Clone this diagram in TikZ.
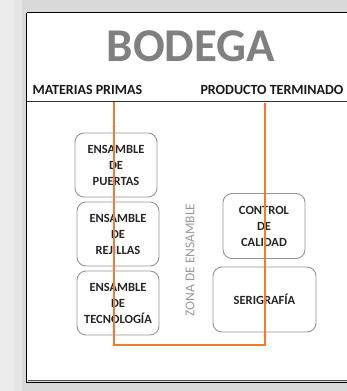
\documentclass[tikz,border=0pt]{standalone}
\usepackage{fontspec}
\setmainfont{Carlito}
\usetikzlibrary{arrows.meta}
\definecolor{flow}{RGB}{240,125,45}
\definecolor{boxgray}{RGB}{150,150,150}
\tikzset{
  procbox/.style={draw=boxgray, line width=0.9pt, rounded corners=9pt, fill=white},
  boxtext/.style={font=\bfseries\fontsize{12.5}{16}\selectfont, align=center, text=black!85},
  headtext/.style={font=\bfseries\fontsize{14}{14}\selectfont, text=black!90, anchor=base west},
  flowline/.style={draw=flow, line width=1.1pt},
  tip/.style={-{Triangle[length=3pt,width=3pt]}}
}
\begin{document}
\begin{tikzpicture}[x=1pt,y=-1pt]
\useasboundingbox (0,0) rectangle (347,391);
% outer shadow background
\fill[gray!30] (0,0) rectangle (347,391);
\fill[gray!15] (0,0) rectangle (14,391);
\fill[gray!20] (14,0) rectangle (22,391);
\fill[white] (26,12) rectangle (347,381);
\draw[black, line width=0.8pt] (26.5,12.5) -- (26.5,382.5) -- (347,382.5);
\draw[black, line width=0.8pt] (26.5,12.5) -- (347,12.5);
\draw[black!70, line width=0.5pt] (28,380) -- (347,380);
% title
\node[font=\bfseries\fontsize{47}{47}\selectfont, text=black!50] (title) at (191,46) {BODEGA};
\node[headtext] (mp) at (29,94) {MATERIAS PRIMAS};
\node[headtext] (pt) at (197,94) {PRODUCTO TERMINADO};
\draw[black!80, line width=0.8pt] (26.5,101.5) -- (347,101.5);
% boxes
\node[procbox, minimum width=82pt, minimum height=64pt] (puertas) at (116,165) {};
\node[boxtext] at (puertas) {ENSAMBLE\\DE\\PUERTAS};
\node[procbox, minimum width=82pt, minimum height=64pt] (rejillas) at (118,234) {};
\node[boxtext] at (rejillas) {ENSAMBLE\\DE\\REJILLAS};
\node[procbox, minimum width=82pt, minimum height=64pt] (tecno) at (118,303) {};
\node[boxtext] at (tecno) {ENSAMBLE\\DE\\TECNOLOGÍA};
\node[procbox, minimum width=82pt, minimum height=65pt] (control) at (264,226) {};
\node[boxtext] at (control) {CONTROL\\DE\\CALIDAD};
\node[procbox, minimum width=103pt, minimum height=65pt] (seri) at (264.5,299.5) {};
\node[boxtext] at (seri) {SERIGRAFÍA};
\node[rotate=90, font=\fontsize{13.5}{14}\selectfont, text=gray!80] (zona) at (190,260) {ZONA DE ENSAMBLE};
% flow
\coordinate (a0) at (114,102);
\coordinate (a1) at (114,345);
\coordinate (a2) at (265,345);
\coordinate (a3) at (265,103);
\draw[flowline] (a0) -- (a1) -- (a2) -- (a3);
\draw[flowline, tip] (114,120) -- (114,129);
\draw[flowline, tip] (114,325) -- (114,334);
\draw[flowline, tip] (265,343) -- (265,333);
\draw[flowline, tip] (265,115) -- (265,103);
\end{tikzpicture}
\end{document}
